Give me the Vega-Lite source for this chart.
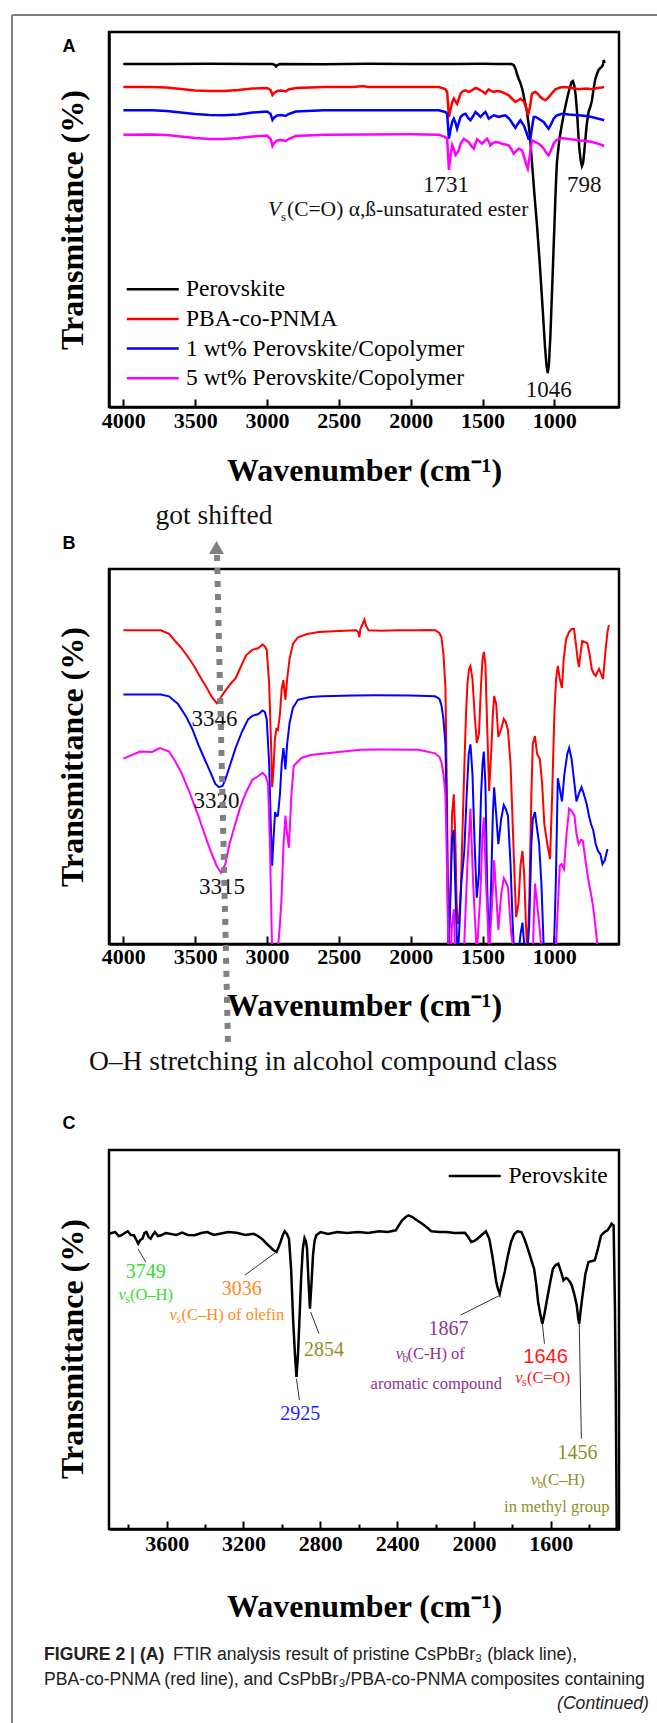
{
"$schema": "https://vega.github.io/schema/vega-lite/v6.json",
"background": "white",
"padding": {"left": 9, "top": 12, "right": 0, "bottom": 0},
"bounds": "flush",
"spacing": 162,
"config": {
  "view": {"stroke": "black", "strokeWidth": 2.5},
  "axis": {"grid": false, "labelFont": "Liberation Serif", "labelFontWeight": "bold", "labelFontSize": 22, "labelColor": "black", "titleFont": "Liberation Serif", "titleFontWeight": "bold", "titleColor": "black", "domainColor": "black", "domainWidth": 2.5, "tickColor": "black", "tickWidth": 2},
  "legend": {"labelFont": "Liberation Serif", "labelColor": "black"}
},
"resolve": {"scale": {"color": "independent"}, "legend": {"color": "independent"}},
"datasets": {
"lineA": [
{"s":"Perovskite","w":4000,"t":343},{"s":"Perovskite","w":3700,"t":343},{"s":"Perovskite","w":3400,"t":343.3},{"s":"Perovskite","w":3100,"t":343},{"s":"Perovskite","w":2960,"t":343},{"s":"Perovskite","w":2945,"t":342},{"s":"Perovskite","w":2937,"t":340.5},{"s":"Perovskite","w":2928,"t":342},{"s":"Perovskite","w":2910,"t":343},{"s":"Perovskite","w":2600,"t":342.7},{"s":"Perovskite","w":2300,"t":343.2},{"s":"Perovskite","w":2000,"t":343},{"s":"Perovskite","w":1700,"t":343},{"s":"Perovskite","w":1500,"t":343.2},{"s":"Perovskite","w":1400,"t":343},{"s":"Perovskite","w":1300,"t":343},{"s":"Perovskite","w":1283,"t":342},{"s":"Perovskite","w":1270,"t":338},{"s":"Perovskite","w":1260,"t":333},{"s":"Perovskite","w":1248,"t":328},{"s":"Perovskite","w":1236,"t":324},{"s":"Perovskite","w":1220,"t":316},{"s":"Perovskite","w":1205,"t":305},{"s":"Perovskite","w":1190,"t":295},{"s":"Perovskite","w":1175,"t":278},{"s":"Perovskite","w":1165,"t":262},{"s":"Perovskite","w":1156,"t":245},{"s":"Perovskite","w":1140,"t":215},{"s":"Perovskite","w":1120,"t":180},{"s":"Perovskite","w":1100,"t":140},{"s":"Perovskite","w":1080,"t":95},{"s":"Perovskite","w":1065,"t":60},{"s":"Perovskite","w":1055,"t":42},{"s":"Perovskite","w":1046,"t":34},{"s":"Perovskite","w":1038,"t":42},{"s":"Perovskite","w":1028,"t":70},{"s":"Perovskite","w":1015,"t":120},{"s":"Perovskite","w":1000,"t":180},{"s":"Perovskite","w":990,"t":220},{"s":"Perovskite","w":982,"t":245},{"s":"Perovskite","w":965,"t":268},{"s":"Perovskite","w":947,"t":283},{"s":"Perovskite","w":930,"t":296},{"s":"Perovskite","w":912,"t":308},{"s":"Perovskite","w":895,"t":318},{"s":"Perovskite","w":880,"t":325},{"s":"Perovskite","w":871,"t":326},{"s":"Perovskite","w":862,"t":322},{"s":"Perovskite","w":852,"t":312},{"s":"Perovskite","w":842,"t":295},{"s":"Perovskite","w":834,"t":275},{"s":"Perovskite","w":826,"t":258},{"s":"Perovskite","w":816,"t":246},{"s":"Perovskite","w":808,"t":241},{"s":"Perovskite","w":800,"t":244},{"s":"Perovskite","w":792,"t":255},{"s":"Perovskite","w":785,"t":266},{"s":"Perovskite","w":775,"t":282},{"s":"Perovskite","w":762,"t":295},{"s":"Perovskite","w":750,"t":300},{"s":"Perovskite","w":739,"t":306},{"s":"Perovskite","w":727,"t":318},{"s":"Perovskite","w":715,"t":328},{"s":"Perovskite","w":703,"t":333},{"s":"Perovskite","w":692,"t":337},{"s":"Perovskite","w":680,"t":339},{"s":"Perovskite","w":671,"t":340},{"s":"Perovskite","w":662,"t":342},{"s":"Perovskite","w":656,"t":347},{"s":"Perovskite","w":650,"t":344},
{"s":"PBA-co-PNMA","w":4000,"t":320},{"s":"PBA-co-PNMA","w":3800,"t":320},{"s":"PBA-co-PNMA","w":3700,"t":319.5},{"s":"PBA-co-PNMA","w":3600,"t":318},{"s":"PBA-co-PNMA","w":3500,"t":316.5},{"s":"PBA-co-PNMA","w":3400,"t":316},{"s":"PBA-co-PNMA","w":3300,"t":316},{"s":"PBA-co-PNMA","w":3200,"t":317},{"s":"PBA-co-PNMA","w":3100,"t":318.5},{"s":"PBA-co-PNMA","w":3000,"t":319},{"s":"PBA-co-PNMA","w":2975,"t":317},{"s":"PBA-co-PNMA","w":2962,"t":312},{"s":"PBA-co-PNMA","w":2950,"t":314},{"s":"PBA-co-PNMA","w":2930,"t":316},{"s":"PBA-co-PNMA","w":2900,"t":316.5},{"s":"PBA-co-PNMA","w":2870,"t":315.5},{"s":"PBA-co-PNMA","w":2850,"t":317.5},{"s":"PBA-co-PNMA","w":2800,"t":319},{"s":"PBA-co-PNMA","w":2600,"t":320},{"s":"PBA-co-PNMA","w":2400,"t":320},{"s":"PBA-co-PNMA","w":2330,"t":321},{"s":"PBA-co-PNMA","w":2300,"t":320},{"s":"PBA-co-PNMA","w":2000,"t":320},{"s":"PBA-co-PNMA","w":1804,"t":320},{"s":"PBA-co-PNMA","w":1760,"t":318},{"s":"PBA-co-PNMA","w":1746,"t":315},{"s":"PBA-co-PNMA","w":1734,"t":290},{"s":"PBA-co-PNMA","w":1722,"t":298},{"s":"PBA-co-PNMA","w":1711,"t":305},{"s":"PBA-co-PNMA","w":1700,"t":308.3},{"s":"PBA-co-PNMA","w":1690,"t":306},{"s":"PBA-co-PNMA","w":1677,"t":303.3},{"s":"PBA-co-PNMA","w":1665,"t":308},{"s":"PBA-co-PNMA","w":1653,"t":313.3},{"s":"PBA-co-PNMA","w":1635,"t":316},{"s":"PBA-co-PNMA","w":1618,"t":316.7},{"s":"PBA-co-PNMA","w":1600,"t":315},{"s":"PBA-co-PNMA","w":1584,"t":315.7},{"s":"PBA-co-PNMA","w":1565,"t":317.5},{"s":"PBA-co-PNMA","w":1549,"t":319},{"s":"PBA-co-PNMA","w":1530,"t":318},{"s":"PBA-co-PNMA","w":1514,"t":316.7},{"s":"PBA-co-PNMA","w":1495,"t":315},{"s":"PBA-co-PNMA","w":1480,"t":313.3},{"s":"PBA-co-PNMA","w":1468,"t":316},{"s":"PBA-co-PNMA","w":1457,"t":317.7},{"s":"PBA-co-PNMA","w":1440,"t":316},{"s":"PBA-co-PNMA","w":1422,"t":315},{"s":"PBA-co-PNMA","w":1405,"t":315.7},{"s":"PBA-co-PNMA","w":1387,"t":315.7},{"s":"PBA-co-PNMA","w":1365,"t":315},{"s":"PBA-co-PNMA","w":1341,"t":313.3},{"s":"PBA-co-PNMA","w":1320,"t":312},{"s":"PBA-co-PNMA","w":1306,"t":310},{"s":"PBA-co-PNMA","w":1285,"t":307},{"s":"PBA-co-PNMA","w":1271,"t":305},{"s":"PBA-co-PNMA","w":1255,"t":306.5},{"s":"PBA-co-PNMA","w":1236,"t":308.3},{"s":"PBA-co-PNMA","w":1225,"t":307},{"s":"PBA-co-PNMA","w":1213,"t":305.7},{"s":"PBA-co-PNMA","w":1198,"t":300},{"s":"PBA-co-PNMA","w":1183,"t":291.7},{"s":"PBA-co-PNMA","w":1170,"t":300},{"s":"PBA-co-PNMA","w":1156,"t":313.3},{"s":"PBA-co-PNMA","w":1144,"t":314.5},{"s":"PBA-co-PNMA","w":1132,"t":315},{"s":"PBA-co-PNMA","w":1115,"t":313},{"s":"PBA-co-PNMA","w":1097,"t":310},{"s":"PBA-co-PNMA","w":1080,"t":308},{"s":"PBA-co-PNMA","w":1063,"t":306.7},{"s":"PBA-co-PNMA","w":1045,"t":309},{"s":"PBA-co-PNMA","w":1028,"t":311.7},{"s":"PBA-co-PNMA","w":1010,"t":315},{"s":"PBA-co-PNMA","w":993,"t":317.7},{"s":"PBA-co-PNMA","w":960,"t":319.5},{"s":"PBA-co-PNMA","w":924,"t":320},{"s":"PBA-co-PNMA","w":880,"t":319},{"s":"PBA-co-PNMA","w":831,"t":317.7},{"s":"PBA-co-PNMA","w":780,"t":318.5},{"s":"PBA-co-PNMA","w":739,"t":317.7},{"s":"PBA-co-PNMA","w":700,"t":319},{"s":"PBA-co-PNMA","w":670,"t":319.5},{"s":"PBA-co-PNMA","w":653,"t":320},
{"s":"1 wt% Perovskite/Copolymer","w":4000,"t":296.7},{"s":"1 wt% Perovskite/Copolymer","w":3800,"t":296.7},{"s":"1 wt% Perovskite/Copolymer","w":3700,"t":296},{"s":"1 wt% Perovskite/Copolymer","w":3600,"t":294.5},{"s":"1 wt% Perovskite/Copolymer","w":3500,"t":293},{"s":"1 wt% Perovskite/Copolymer","w":3400,"t":292},{"s":"1 wt% Perovskite/Copolymer","w":3300,"t":291.7},{"s":"1 wt% Perovskite/Copolymer","w":3200,"t":292.5},{"s":"1 wt% Perovskite/Copolymer","w":3100,"t":294.5},{"s":"1 wt% Perovskite/Copolymer","w":3000,"t":295.5},{"s":"1 wt% Perovskite/Copolymer","w":2975,"t":293},{"s":"1 wt% Perovskite/Copolymer","w":2962,"t":287},{"s":"1 wt% Perovskite/Copolymer","w":2950,"t":289.5},{"s":"1 wt% Perovskite/Copolymer","w":2930,"t":291.5},{"s":"1 wt% Perovskite/Copolymer","w":2900,"t":292},{"s":"1 wt% Perovskite/Copolymer","w":2870,"t":291},{"s":"1 wt% Perovskite/Copolymer","w":2850,"t":293},{"s":"1 wt% Perovskite/Copolymer","w":2800,"t":295.5},{"s":"1 wt% Perovskite/Copolymer","w":2600,"t":296.7},{"s":"1 wt% Perovskite/Copolymer","w":2000,"t":296.7},{"s":"1 wt% Perovskite/Copolymer","w":1804,"t":296.7},{"s":"1 wt% Perovskite/Copolymer","w":1760,"t":295},{"s":"1 wt% Perovskite/Copolymer","w":1746,"t":293.3},{"s":"1 wt% Perovskite/Copolymer","w":1734,"t":268.3},{"s":"1 wt% Perovskite/Copolymer","w":1722,"t":278},{"s":"1 wt% Perovskite/Copolymer","w":1711,"t":285},{"s":"1 wt% Perovskite/Copolymer","w":1700,"t":288.3},{"s":"1 wt% Perovskite/Copolymer","w":1690,"t":285},{"s":"1 wt% Perovskite/Copolymer","w":1677,"t":278.3},{"s":"1 wt% Perovskite/Copolymer","w":1665,"t":284},{"s":"1 wt% Perovskite/Copolymer","w":1653,"t":290},{"s":"1 wt% Perovskite/Copolymer","w":1635,"t":292.5},{"s":"1 wt% Perovskite/Copolymer","w":1618,"t":293.3},{"s":"1 wt% Perovskite/Copolymer","w":1600,"t":289},{"s":"1 wt% Perovskite/Copolymer","w":1584,"t":286.7},{"s":"1 wt% Perovskite/Copolymer","w":1565,"t":291},{"s":"1 wt% Perovskite/Copolymer","w":1549,"t":295},{"s":"1 wt% Perovskite/Copolymer","w":1530,"t":292.5},{"s":"1 wt% Perovskite/Copolymer","w":1514,"t":290},{"s":"1 wt% Perovskite/Copolymer","w":1495,"t":293},{"s":"1 wt% Perovskite/Copolymer","w":1480,"t":295},{"s":"1 wt% Perovskite/Copolymer","w":1468,"t":292},{"s":"1 wt% Perovskite/Copolymer","w":1457,"t":288.3},{"s":"1 wt% Perovskite/Copolymer","w":1440,"t":290},{"s":"1 wt% Perovskite/Copolymer","w":1422,"t":291.7},{"s":"1 wt% Perovskite/Copolymer","w":1405,"t":291},{"s":"1 wt% Perovskite/Copolymer","w":1387,"t":290},{"s":"1 wt% Perovskite/Copolymer","w":1365,"t":291},{"s":"1 wt% Perovskite/Copolymer","w":1341,"t":291.7},{"s":"1 wt% Perovskite/Copolymer","w":1320,"t":289},{"s":"1 wt% Perovskite/Copolymer","w":1306,"t":286.7},{"s":"1 wt% Perovskite/Copolymer","w":1285,"t":282},{"s":"1 wt% Perovskite/Copolymer","w":1271,"t":279},{"s":"1 wt% Perovskite/Copolymer","w":1255,"t":283},{"s":"1 wt% Perovskite/Copolymer","w":1236,"t":286.7},{"s":"1 wt% Perovskite/Copolymer","w":1225,"t":284},{"s":"1 wt% Perovskite/Copolymer","w":1213,"t":281.7},{"s":"1 wt% Perovskite/Copolymer","w":1195,"t":275},{"s":"1 wt% Perovskite/Copolymer","w":1180,"t":268.3},{"s":"1 wt% Perovskite/Copolymer","w":1167,"t":268.3},{"s":"1 wt% Perovskite/Copolymer","w":1155,"t":280},{"s":"1 wt% Perovskite/Copolymer","w":1144,"t":290},{"s":"1 wt% Perovskite/Copolymer","w":1130,"t":290},{"s":"1 wt% Perovskite/Copolymer","w":1109,"t":288.3},{"s":"1 wt% Perovskite/Copolymer","w":1090,"t":286.5},{"s":"1 wt% Perovskite/Copolymer","w":1074,"t":285},{"s":"1 wt% Perovskite/Copolymer","w":1055,"t":281},{"s":"1 wt% Perovskite/Copolymer","w":1040,"t":278.3},{"s":"1 wt% Perovskite/Copolymer","w":1025,"t":282},{"s":"1 wt% Perovskite/Copolymer","w":1005,"t":288.3},{"s":"1 wt% Perovskite/Copolymer","w":985,"t":291.5},{"s":"1 wt% Perovskite/Copolymer","w":947,"t":293.3},{"s":"1 wt% Perovskite/Copolymer","w":900,"t":292.5},{"s":"1 wt% Perovskite/Copolymer","w":831,"t":291.7},{"s":"1 wt% Perovskite/Copolymer","w":780,"t":291},{"s":"1 wt% Perovskite/Copolymer","w":739,"t":290},{"s":"1 wt% Perovskite/Copolymer","w":700,"t":288.5},{"s":"1 wt% Perovskite/Copolymer","w":670,"t":287.5},{"s":"1 wt% Perovskite/Copolymer","w":653,"t":286.7},
{"s":"5 wt% Perovskite/Copolymer","w":4000,"t":272.3},{"s":"5 wt% Perovskite/Copolymer","w":3800,"t":272.5},{"s":"5 wt% Perovskite/Copolymer","w":3700,"t":272},{"s":"5 wt% Perovskite/Copolymer","w":3600,"t":270.5},{"s":"5 wt% Perovskite/Copolymer","w":3500,"t":269},{"s":"5 wt% Perovskite/Copolymer","w":3400,"t":268},{"s":"5 wt% Perovskite/Copolymer","w":3300,"t":268},{"s":"5 wt% Perovskite/Copolymer","w":3200,"t":269},{"s":"5 wt% Perovskite/Copolymer","w":3100,"t":270.5},{"s":"5 wt% Perovskite/Copolymer","w":3000,"t":271.5},{"s":"5 wt% Perovskite/Copolymer","w":2975,"t":268},{"s":"5 wt% Perovskite/Copolymer","w":2962,"t":261},{"s":"5 wt% Perovskite/Copolymer","w":2950,"t":264},{"s":"5 wt% Perovskite/Copolymer","w":2930,"t":266.5},{"s":"5 wt% Perovskite/Copolymer","w":2900,"t":267},{"s":"5 wt% Perovskite/Copolymer","w":2870,"t":266},{"s":"5 wt% Perovskite/Copolymer","w":2850,"t":268},{"s":"5 wt% Perovskite/Copolymer","w":2800,"t":271},{"s":"5 wt% Perovskite/Copolymer","w":2600,"t":272.3},{"s":"5 wt% Perovskite/Copolymer","w":2000,"t":272.7},{"s":"5 wt% Perovskite/Copolymer","w":1804,"t":272.3},{"s":"5 wt% Perovskite/Copolymer","w":1760,"t":270},{"s":"5 wt% Perovskite/Copolymer","w":1746,"t":268.3},{"s":"5 wt% Perovskite/Copolymer","w":1734,"t":237},{"s":"5 wt% Perovskite/Copolymer","w":1722,"t":252},{"s":"5 wt% Perovskite/Copolymer","w":1711,"t":262},{"s":"5 wt% Perovskite/Copolymer","w":1700,"t":258},{"s":"5 wt% Perovskite/Copolymer","w":1688,"t":252},{"s":"5 wt% Perovskite/Copolymer","w":1677,"t":254},{"s":"5 wt% Perovskite/Copolymer","w":1665,"t":257},{"s":"5 wt% Perovskite/Copolymer","w":1650,"t":264},{"s":"5 wt% Perovskite/Copolymer","w":1630,"t":268.3},{"s":"5 wt% Perovskite/Copolymer","w":1614,"t":266.5},{"s":"5 wt% Perovskite/Copolymer","w":1596,"t":265},{"s":"5 wt% Perovskite/Copolymer","w":1578,"t":261},{"s":"5 wt% Perovskite/Copolymer","w":1561,"t":258.3},{"s":"5 wt% Perovskite/Copolymer","w":1550,"t":263},{"s":"5 wt% Perovskite/Copolymer","w":1538,"t":267.7},{"s":"5 wt% Perovskite/Copolymer","w":1520,"t":265.5},{"s":"5 wt% Perovskite/Copolymer","w":1503,"t":263.3},{"s":"5 wt% Perovskite/Copolymer","w":1485,"t":266},{"s":"5 wt% Perovskite/Copolymer","w":1468,"t":268.3},{"s":"5 wt% Perovskite/Copolymer","w":1455,"t":265},{"s":"5 wt% Perovskite/Copolymer","w":1445,"t":261.7},{"s":"5 wt% Perovskite/Copolymer","w":1428,"t":264},{"s":"5 wt% Perovskite/Copolymer","w":1410,"t":265},{"s":"5 wt% Perovskite/Copolymer","w":1385,"t":264.5},{"s":"5 wt% Perovskite/Copolymer","w":1364,"t":263.3},{"s":"5 wt% Perovskite/Copolymer","w":1340,"t":262.5},{"s":"5 wt% Perovskite/Copolymer","w":1318,"t":261.7},{"s":"5 wt% Perovskite/Copolymer","w":1300,"t":258},{"s":"5 wt% Perovskite/Copolymer","w":1283,"t":253.3},{"s":"5 wt% Perovskite/Copolymer","w":1265,"t":256},{"s":"5 wt% Perovskite/Copolymer","w":1248,"t":258.3},{"s":"5 wt% Perovskite/Copolymer","w":1235,"t":257.5},{"s":"5 wt% Perovskite/Copolymer","w":1225,"t":256.7},{"s":"5 wt% Perovskite/Copolymer","w":1210,"t":250},{"s":"5 wt% Perovskite/Copolymer","w":1195,"t":242},{"s":"5 wt% Perovskite/Copolymer","w":1185,"t":238.3},{"s":"5 wt% Perovskite/Copolymer","w":1172,"t":250},{"s":"5 wt% Perovskite/Copolymer","w":1156,"t":266.7},{"s":"5 wt% Perovskite/Copolymer","w":1140,"t":265.5},{"s":"5 wt% Perovskite/Copolymer","w":1125,"t":264.5},{"s":"5 wt% Perovskite/Copolymer","w":1109,"t":263.3},{"s":"5 wt% Perovskite/Copolymer","w":1090,"t":261},{"s":"5 wt% Perovskite/Copolymer","w":1074,"t":258.3},{"s":"5 wt% Perovskite/Copolymer","w":1055,"t":254},{"s":"5 wt% Perovskite/Copolymer","w":1040,"t":251.7},{"s":"5 wt% Perovskite/Copolymer","w":1025,"t":256},{"s":"5 wt% Perovskite/Copolymer","w":1005,"t":263.3},{"s":"5 wt% Perovskite/Copolymer","w":985,"t":267},{"s":"5 wt% Perovskite/Copolymer","w":947,"t":269},{"s":"5 wt% Perovskite/Copolymer","w":900,"t":268},{"s":"5 wt% Perovskite/Copolymer","w":831,"t":266.7},{"s":"5 wt% Perovskite/Copolymer","w":780,"t":266},{"s":"5 wt% Perovskite/Copolymer","w":739,"t":265},{"s":"5 wt% Perovskite/Copolymer","w":700,"t":263.5},{"s":"5 wt% Perovskite/Copolymer","w":670,"t":262},{"s":"5 wt% Perovskite/Copolymer","w":653,"t":261}
],
"lineB": [
{"s":"PBA-co-PNMA","w":4000,"t":313.7},{"s":"PBA-co-PNMA","w":3850,"t":313.7},{"s":"PBA-co-PNMA","w":3740,"t":313.7},{"s":"PBA-co-PNMA","w":3682,"t":310.1},{"s":"PBA-co-PNMA","w":3640,"t":303},{"s":"PBA-co-PNMA","w":3595,"t":295.9},{"s":"PBA-co-PNMA","w":3550,"t":287},{"s":"PBA-co-PNMA","w":3508,"t":278},{"s":"PBA-co-PNMA","w":3465,"t":267},{"s":"PBA-co-PNMA","w":3421,"t":256.6},{"s":"PBA-co-PNMA","w":3385,"t":247},{"s":"PBA-co-PNMA","w":3349,"t":240.6},{"s":"PBA-co-PNMA","w":3320,"t":247},{"s":"PBA-co-PNMA","w":3291,"t":253.1},{"s":"PBA-co-PNMA","w":3255,"t":260},{"s":"PBA-co-PNMA","w":3219,"t":265.6},{"s":"PBA-co-PNMA","w":3180,"t":278},{"s":"PBA-co-PNMA","w":3146,"t":288.7},{"s":"PBA-co-PNMA","w":3103,"t":294.1},{"s":"PBA-co-PNMA","w":3060,"t":296},{"s":"PBA-co-PNMA","w":3031,"t":299.4},{"s":"PBA-co-PNMA","w":3015,"t":297.5},{"s":"PBA-co-PNMA","w":3002,"t":294.1},{"s":"PBA-co-PNMA","w":2985,"t":260},{"s":"PBA-co-PNMA","w":2972,"t":200},{"s":"PBA-co-PNMA","w":2964,"t":156.8},{"s":"PBA-co-PNMA","w":2955,"t":175},{"s":"PBA-co-PNMA","w":2945,"t":205},{"s":"PBA-co-PNMA","w":2935,"t":215},{"s":"PBA-co-PNMA","w":2924,"t":213.9},{"s":"PBA-co-PNMA","w":2910,"t":230},{"s":"PBA-co-PNMA","w":2898,"t":255},{"s":"PBA-co-PNMA","w":2886,"t":263.8},{"s":"PBA-co-PNMA","w":2878,"t":252},{"s":"PBA-co-PNMA","w":2872,"t":244.2},{"s":"PBA-co-PNMA","w":2860,"t":265},{"s":"PBA-co-PNMA","w":2843,"t":285.2},{"s":"PBA-co-PNMA","w":2820,"t":300},{"s":"PBA-co-PNMA","w":2785,"t":306.6},{"s":"PBA-co-PNMA","w":2720,"t":310},{"s":"PBA-co-PNMA","w":2640,"t":311.9},{"s":"PBA-co-PNMA","w":2500,"t":313},{"s":"PBA-co-PNMA","w":2380,"t":313.7},{"s":"PBA-co-PNMA","w":2365,"t":312},{"s":"PBA-co-PNMA","w":2357,"t":306.6},{"s":"PBA-co-PNMA","w":2350,"t":315},{"s":"PBA-co-PNMA","w":2335,"t":320},{"s":"PBA-co-PNMA","w":2322,"t":324.4},{"s":"PBA-co-PNMA","w":2310,"t":318},{"s":"PBA-co-PNMA","w":2293,"t":313.7},{"s":"PBA-co-PNMA","w":2200,"t":313.2},{"s":"PBA-co-PNMA","w":2100,"t":313.7},{"s":"PBA-co-PNMA","w":1946,"t":313.7},{"s":"PBA-co-PNMA","w":1880,"t":314},{"s":"PBA-co-PNMA","w":1830,"t":313.7},{"s":"PBA-co-PNMA","w":1800,"t":311},{"s":"PBA-co-PNMA","w":1786,"t":306.6},{"s":"PBA-co-PNMA","w":1772,"t":290},{"s":"PBA-co-PNMA","w":1758,"t":256.6},{"s":"PBA-co-PNMA","w":1748,"t":150},{"s":"PBA-co-PNMA","w":1737,"t":-10},{"s":"PBA-co-PNMA","w":1722,"t":60},{"s":"PBA-co-PNMA","w":1712,"t":130},{"s":"PBA-co-PNMA","w":1700,"t":149.7},{"s":"PBA-co-PNMA","w":1690,"t":110},{"s":"PBA-co-PNMA","w":1680,"t":40},{"s":"PBA-co-PNMA","w":1671,"t":20},{"s":"PBA-co-PNMA","w":1660,"t":30},{"s":"PBA-co-PNMA","w":1650,"t":60},{"s":"PBA-co-PNMA","w":1638,"t":120},{"s":"PBA-co-PNMA","w":1627,"t":175},{"s":"PBA-co-PNMA","w":1615,"t":230},{"s":"PBA-co-PNMA","w":1605,"t":260},{"s":"PBA-co-PNMA","w":1594,"t":275},{"s":"PBA-co-PNMA","w":1584,"t":278},{"s":"PBA-co-PNMA","w":1570,"t":265},{"s":"PBA-co-PNMA","w":1555,"t":230},{"s":"PBA-co-PNMA","w":1540,"t":201},{"s":"PBA-co-PNMA","w":1525,"t":210},{"s":"PBA-co-PNMA","w":1510,"t":260},{"s":"PBA-co-PNMA","w":1500,"t":285},{"s":"PBA-co-PNMA","w":1491,"t":292},{"s":"PBA-co-PNMA","w":1480,"t":280},{"s":"PBA-co-PNMA","w":1468,"t":220},{"s":"PBA-co-PNMA","w":1454,"t":153},{"s":"PBA-co-PNMA","w":1440,"t":190},{"s":"PBA-co-PNMA","w":1428,"t":230},{"s":"PBA-co-PNMA","w":1419,"t":248},{"s":"PBA-co-PNMA","w":1405,"t":240},{"s":"PBA-co-PNMA","w":1390,"t":207},{"s":"PBA-co-PNMA","w":1370,"t":215},{"s":"PBA-co-PNMA","w":1352,"t":225},{"s":"PBA-co-PNMA","w":1338,"t":222},{"s":"PBA-co-PNMA","w":1323,"t":214},{"s":"PBA-co-PNMA","w":1305,"t":180},{"s":"PBA-co-PNMA","w":1290,"t":120},{"s":"PBA-co-PNMA","w":1275,"t":60},{"s":"PBA-co-PNMA","w":1266,"t":27},{"s":"PBA-co-PNMA","w":1250,"t":40},{"s":"PBA-co-PNMA","w":1235,"t":80},{"s":"PBA-co-PNMA","w":1222,"t":93},{"s":"PBA-co-PNMA","w":1210,"t":70},{"s":"PBA-co-PNMA","w":1198,"t":20},{"s":"PBA-co-PNMA","w":1188,"t":-10},{"s":"PBA-co-PNMA","w":1175,"t":40},{"s":"PBA-co-PNMA","w":1160,"t":150},{"s":"PBA-co-PNMA","w":1150,"t":200},{"s":"PBA-co-PNMA","w":1135,"t":208},{"s":"PBA-co-PNMA","w":1120,"t":190},{"s":"PBA-co-PNMA","w":1101,"t":185},{"s":"PBA-co-PNMA","w":1085,"t":160},{"s":"PBA-co-PNMA","w":1070,"t":120},{"s":"PBA-co-PNMA","w":1049,"t":100},{"s":"PBA-co-PNMA","w":1030,"t":85},{"s":"PBA-co-PNMA","w":1015,"t":150},{"s":"PBA-co-PNMA","w":1000,"t":230},{"s":"PBA-co-PNMA","w":988,"t":265},{"s":"PBA-co-PNMA","w":976,"t":278},{"s":"PBA-co-PNMA","w":962,"t":265},{"s":"PBA-co-PNMA","w":947,"t":256},{"s":"PBA-co-PNMA","w":935,"t":285},{"s":"PBA-co-PNMA","w":918,"t":305},{"s":"PBA-co-PNMA","w":898,"t":312},{"s":"PBA-co-PNMA","w":880,"t":315},{"s":"PBA-co-PNMA","w":863,"t":315},{"s":"PBA-co-PNMA","w":850,"t":300},{"s":"PBA-co-PNMA","w":838,"t":285},{"s":"PBA-co-PNMA","w":829,"t":277},{"s":"PBA-co-PNMA","w":818,"t":290},{"s":"PBA-co-PNMA","w":806,"t":303},{"s":"PBA-co-PNMA","w":790,"t":302},{"s":"PBA-co-PNMA","w":771,"t":301},{"s":"PBA-co-PNMA","w":755,"t":290},{"s":"PBA-co-PNMA","w":740,"t":275},{"s":"PBA-co-PNMA","w":725,"t":270},{"s":"PBA-co-PNMA","w":712,"t":268},{"s":"PBA-co-PNMA","w":700,"t":272},{"s":"PBA-co-PNMA","w":689,"t":275},{"s":"PBA-co-PNMA","w":675,"t":270},{"s":"PBA-co-PNMA","w":661,"t":265},{"s":"PBA-co-PNMA","w":652,"t":280},{"s":"PBA-co-PNMA","w":643,"t":295},{"s":"PBA-co-PNMA","w":630,"t":312},{"s":"PBA-co-PNMA","w":620,"t":319},
{"s":"1 wt% Perovskite/Copolymer","w":4000,"t":249.5},{"s":"1 wt% Perovskite/Copolymer","w":3900,"t":249.5},{"s":"1 wt% Perovskite/Copolymer","w":3740,"t":249.5},{"s":"1 wt% Perovskite/Copolymer","w":3682,"t":247.7},{"s":"1 wt% Perovskite/Copolymer","w":3620,"t":240},{"s":"1 wt% Perovskite/Copolymer","w":3566,"t":228.1},{"s":"1 wt% Perovskite/Copolymer","w":3520,"t":215},{"s":"1 wt% Perovskite/Copolymer","w":3479,"t":199.6},{"s":"1 wt% Perovskite/Copolymer","w":3435,"t":185},{"s":"1 wt% Perovskite/Copolymer","w":3392,"t":171.1},{"s":"1 wt% Perovskite/Copolymer","w":3360,"t":160},{"s":"1 wt% Perovskite/Copolymer","w":3335,"t":156.8},{"s":"1 wt% Perovskite/Copolymer","w":3310,"t":158},{"s":"1 wt% Perovskite/Copolymer","w":3291,"t":164},{"s":"1 wt% Perovskite/Copolymer","w":3255,"t":180},{"s":"1 wt% Perovskite/Copolymer","w":3219,"t":196},{"s":"1 wt% Perovskite/Copolymer","w":3175,"t":212},{"s":"1 wt% Perovskite/Copolymer","w":3132,"t":224.6},{"s":"1 wt% Perovskite/Copolymer","w":3103,"t":228.1},{"s":"1 wt% Perovskite/Copolymer","w":3060,"t":230},{"s":"1 wt% Perovskite/Copolymer","w":3031,"t":233.5},{"s":"1 wt% Perovskite/Copolymer","w":3015,"t":232},{"s":"1 wt% Perovskite/Copolymer","w":3002,"t":224.6},{"s":"1 wt% Perovskite/Copolymer","w":2985,"t":180},{"s":"1 wt% Perovskite/Copolymer","w":2972,"t":110},{"s":"1 wt% Perovskite/Copolymer","w":2964,"t":78.4},{"s":"1 wt% Perovskite/Copolymer","w":2955,"t":105},{"s":"1 wt% Perovskite/Copolymer","w":2944,"t":131.9},{"s":"1 wt% Perovskite/Copolymer","w":2934,"t":128},{"s":"1 wt% Perovskite/Copolymer","w":2924,"t":128.3},{"s":"1 wt% Perovskite/Copolymer","w":2910,"t":150},{"s":"1 wt% Perovskite/Copolymer","w":2898,"t":180},{"s":"1 wt% Perovskite/Copolymer","w":2886,"t":196},{"s":"1 wt% Perovskite/Copolymer","w":2878,"t":185},{"s":"1 wt% Perovskite/Copolymer","w":2872,"t":174.6},{"s":"1 wt% Perovskite/Copolymer","w":2860,"t":200},{"s":"1 wt% Perovskite/Copolymer","w":2843,"t":221},{"s":"1 wt% Perovskite/Copolymer","w":2820,"t":236},{"s":"1 wt% Perovskite/Copolymer","w":2785,"t":244.2},{"s":"1 wt% Perovskite/Copolymer","w":2700,"t":247},{"s":"1 wt% Perovskite/Copolymer","w":2611,"t":247.7},{"s":"1 wt% Perovskite/Copolymer","w":2400,"t":248.5},{"s":"1 wt% Perovskite/Copolymer","w":2235,"t":248.8},{"s":"1 wt% Perovskite/Copolymer","w":2000,"t":248.5},{"s":"1 wt% Perovskite/Copolymer","w":1830,"t":247.7},{"s":"1 wt% Perovskite/Copolymer","w":1800,"t":245},{"s":"1 wt% Perovskite/Copolymer","w":1786,"t":238.8},{"s":"1 wt% Perovskite/Copolymer","w":1772,"t":225},{"s":"1 wt% Perovskite/Copolymer","w":1758,"t":199.6},{"s":"1 wt% Perovskite/Copolymer","w":1748,"t":120},{"s":"1 wt% Perovskite/Copolymer","w":1737,"t":-10},{"s":"1 wt% Perovskite/Copolymer","w":1725,"t":40},{"s":"1 wt% Perovskite/Copolymer","w":1712,"t":105},{"s":"1 wt% Perovskite/Copolymer","w":1700,"t":114},{"s":"1 wt% Perovskite/Copolymer","w":1690,"t":60},{"s":"1 wt% Perovskite/Copolymer","w":1680,"t":10},{"s":"1 wt% Perovskite/Copolymer","w":1671,"t":-10},{"s":"1 wt% Perovskite/Copolymer","w":1660,"t":20},{"s":"1 wt% Perovskite/Copolymer","w":1648,"t":60},{"s":"1 wt% Perovskite/Copolymer","w":1627,"t":92.6},{"s":"1 wt% Perovskite/Copolymer","w":1610,"t":150},{"s":"1 wt% Perovskite/Copolymer","w":1596,"t":190},{"s":"1 wt% Perovskite/Copolymer","w":1584,"t":199.6},{"s":"1 wt% Perovskite/Copolymer","w":1570,"t":170},{"s":"1 wt% Perovskite/Copolymer","w":1555,"t":100},{"s":"1 wt% Perovskite/Copolymer","w":1540,"t":46.3},{"s":"1 wt% Perovskite/Copolymer","w":1525,"t":70},{"s":"1 wt% Perovskite/Copolymer","w":1510,"t":150},{"s":"1 wt% Perovskite/Copolymer","w":1500,"t":180},{"s":"1 wt% Perovskite/Copolymer","w":1491,"t":192.5},{"s":"1 wt% Perovskite/Copolymer","w":1480,"t":160},{"s":"1 wt% Perovskite/Copolymer","w":1468,"t":60},{"s":"1 wt% Perovskite/Copolymer","w":1454,"t":-10},{"s":"1 wt% Perovskite/Copolymer","w":1440,"t":60},{"s":"1 wt% Perovskite/Copolymer","w":1428,"t":130},{"s":"1 wt% Perovskite/Copolymer","w":1419,"t":156.8},{"s":"1 wt% Perovskite/Copolymer","w":1405,"t":130},{"s":"1 wt% Perovskite/Copolymer","w":1390,"t":99.8},{"s":"1 wt% Perovskite/Copolymer","w":1370,"t":125},{"s":"1 wt% Perovskite/Copolymer","w":1352,"t":139},{"s":"1 wt% Perovskite/Copolymer","w":1338,"t":135},{"s":"1 wt% Perovskite/Copolymer","w":1323,"t":128.3},{"s":"1 wt% Perovskite/Copolymer","w":1305,"t":80},{"s":"1 wt% Perovskite/Copolymer","w":1290,"t":20},{"s":"1 wt% Perovskite/Copolymer","w":1280,"t":-10},{"s":"1 wt% Perovskite/Copolymer","w":1250,"t":-10},{"s":"1 wt% Perovskite/Copolymer","w":1235,"t":10},{"s":"1 wt% Perovskite/Copolymer","w":1222,"t":21.4},{"s":"1 wt% Perovskite/Copolymer","w":1210,"t":0},{"s":"1 wt% Perovskite/Copolymer","w":1198,"t":-10},{"s":"1 wt% Perovskite/Copolymer","w":1188,"t":-10},{"s":"1 wt% Perovskite/Copolymer","w":1175,"t":20},{"s":"1 wt% Perovskite/Copolymer","w":1160,"t":100},{"s":"1 wt% Perovskite/Copolymer","w":1150,"t":125},{"s":"1 wt% Perovskite/Copolymer","w":1135,"t":131.9},{"s":"1 wt% Perovskite/Copolymer","w":1120,"t":115},{"s":"1 wt% Perovskite/Copolymer","w":1106,"t":99.8},{"s":"1 wt% Perovskite/Copolymer","w":1090,"t":60},{"s":"1 wt% Perovskite/Copolymer","w":1075,"t":0},{"s":"1 wt% Perovskite/Copolymer","w":1062,"t":-10},{"s":"1 wt% Perovskite/Copolymer","w":1004,"t":-10},{"s":"1 wt% Perovskite/Copolymer","w":990,"t":60},{"s":"1 wt% Perovskite/Copolymer","w":976,"t":165.7},{"s":"1 wt% Perovskite/Copolymer","w":962,"t":155},{"s":"1 wt% Perovskite/Copolymer","w":947,"t":142.6},{"s":"1 wt% Perovskite/Copolymer","w":930,"t":170},{"s":"1 wt% Perovskite/Copolymer","w":910,"t":190},{"s":"1 wt% Perovskite/Copolymer","w":897,"t":196},{"s":"1 wt% Perovskite/Copolymer","w":880,"t":185},{"s":"1 wt% Perovskite/Copolymer","w":860,"t":160},{"s":"1 wt% Perovskite/Copolymer","w":846,"t":142.6},{"s":"1 wt% Perovskite/Copolymer","w":830,"t":150},{"s":"1 wt% Perovskite/Copolymer","w":811,"t":156.8},{"s":"1 wt% Perovskite/Copolymer","w":795,"t":150},{"s":"1 wt% Perovskite/Copolymer","w":775,"t":140},{"s":"1 wt% Perovskite/Copolymer","w":759,"t":128.3},{"s":"1 wt% Perovskite/Copolymer","w":745,"t":120},{"s":"1 wt% Perovskite/Copolymer","w":730,"t":114},{"s":"1 wt% Perovskite/Copolymer","w":712,"t":100},{"s":"1 wt% Perovskite/Copolymer","w":695,"t":92.6},{"s":"1 wt% Perovskite/Copolymer","w":680,"t":90},{"s":"1 wt% Perovskite/Copolymer","w":665,"t":80},{"s":"1 wt% Perovskite/Copolymer","w":649,"t":83.7},{"s":"1 wt% Perovskite/Copolymer","w":630,"t":95},
{"s":"5 wt% Perovskite/Copolymer","w":4000,"t":185.3},{"s":"5 wt% Perovskite/Copolymer","w":3884,"t":192.5},{"s":"5 wt% Perovskite/Copolymer","w":3800,"t":192},{"s":"5 wt% Perovskite/Copolymer","w":3745,"t":196},{"s":"5 wt% Perovskite/Copolymer","w":3682,"t":192.5},{"s":"5 wt% Perovskite/Copolymer","w":3640,"t":183},{"s":"5 wt% Perovskite/Copolymer","w":3595,"t":171.1},{"s":"5 wt% Perovskite/Copolymer","w":3540,"t":152},{"s":"5 wt% Perovskite/Copolymer","w":3479,"t":128.3},{"s":"5 wt% Perovskite/Copolymer","w":3435,"t":110},{"s":"5 wt% Perovskite/Copolymer","w":3392,"t":92.6},{"s":"5 wt% Perovskite/Copolymer","w":3350,"t":78},{"s":"5 wt% Perovskite/Copolymer","w":3320,"t":71.3},{"s":"5 wt% Perovskite/Copolymer","w":3290,"t":80},{"s":"5 wt% Perovskite/Copolymer","w":3262,"t":99.8},{"s":"5 wt% Perovskite/Copolymer","w":3225,"t":118},{"s":"5 wt% Perovskite/Copolymer","w":3190,"t":135.4},{"s":"5 wt% Perovskite/Copolymer","w":3145,"t":152},{"s":"5 wt% Perovskite/Copolymer","w":3103,"t":164},{"s":"5 wt% Perovskite/Copolymer","w":3060,"t":168},{"s":"5 wt% Perovskite/Copolymer","w":3031,"t":171.1},{"s":"5 wt% Perovskite/Copolymer","w":3010,"t":168},{"s":"5 wt% Perovskite/Copolymer","w":2993,"t":160.4},{"s":"5 wt% Perovskite/Copolymer","w":2980,"t":100},{"s":"5 wt% Perovskite/Copolymer","w":2964,"t":-10},{"s":"5 wt% Perovskite/Copolymer","w":2929,"t":-10},{"s":"5 wt% Perovskite/Copolymer","w":2915,"t":10},{"s":"5 wt% Perovskite/Copolymer","w":2900,"t":42.7},{"s":"5 wt% Perovskite/Copolymer","w":2885,"t":100},{"s":"5 wt% Perovskite/Copolymer","w":2872,"t":128.3},{"s":"5 wt% Perovskite/Copolymer","w":2860,"t":110},{"s":"5 wt% Perovskite/Copolymer","w":2848,"t":96.2},{"s":"5 wt% Perovskite/Copolymer","w":2830,"t":150},{"s":"5 wt% Perovskite/Copolymer","w":2814,"t":178.2},{"s":"5 wt% Perovskite/Copolymer","w":2760,"t":186},{"s":"5 wt% Perovskite/Copolymer","w":2698,"t":188.9},{"s":"5 wt% Perovskite/Copolymer","w":2500,"t":192},{"s":"5 wt% Perovskite/Copolymer","w":2351,"t":194.3},{"s":"5 wt% Perovskite/Copolymer","w":2200,"t":194.5},{"s":"5 wt% Perovskite/Copolymer","w":1946,"t":194.3},{"s":"5 wt% Perovskite/Copolymer","w":1830,"t":190.7},{"s":"5 wt% Perovskite/Copolymer","w":1800,"t":187},{"s":"5 wt% Perovskite/Copolymer","w":1786,"t":181.8},{"s":"5 wt% Perovskite/Copolymer","w":1772,"t":170},{"s":"5 wt% Perovskite/Copolymer","w":1758,"t":149.7},{"s":"5 wt% Perovskite/Copolymer","w":1748,"t":80},{"s":"5 wt% Perovskite/Copolymer","w":1737,"t":-10},{"s":"5 wt% Perovskite/Copolymer","w":1722,"t":-10},{"s":"5 wt% Perovskite/Copolymer","w":1712,"t":20},{"s":"5 wt% Perovskite/Copolymer","w":1700,"t":35},{"s":"5 wt% Perovskite/Copolymer","w":1690,"t":-10},{"s":"5 wt% Perovskite/Copolymer","w":1630,"t":-10},{"s":"5 wt% Perovskite/Copolymer","w":1605,"t":80},{"s":"5 wt% Perovskite/Copolymer","w":1584,"t":135.4},{"s":"5 wt% Perovskite/Copolymer","w":1565,"t":60},{"s":"5 wt% Perovskite/Copolymer","w":1540,"t":-10},{"s":"5 wt% Perovskite/Copolymer","w":1515,"t":50},{"s":"5 wt% Perovskite/Copolymer","w":1500,"t":110},{"s":"5 wt% Perovskite/Copolymer","w":1491,"t":126.5},{"s":"5 wt% Perovskite/Copolymer","w":1475,"t":60},{"s":"5 wt% Perovskite/Copolymer","w":1454,"t":-10},{"s":"5 wt% Perovskite/Copolymer","w":1430,"t":50},{"s":"5 wt% Perovskite/Copolymer","w":1419,"t":83.7},{"s":"5 wt% Perovskite/Copolymer","w":1405,"t":50},{"s":"5 wt% Perovskite/Copolymer","w":1390,"t":14.2},{"s":"5 wt% Perovskite/Copolymer","w":1370,"t":50},{"s":"5 wt% Perovskite/Copolymer","w":1352,"t":65.9},{"s":"5 wt% Perovskite/Copolymer","w":1338,"t":62},{"s":"5 wt% Perovskite/Copolymer","w":1323,"t":57},{"s":"5 wt% Perovskite/Copolymer","w":1300,"t":10},{"s":"5 wt% Perovskite/Copolymer","w":1280,"t":-10},{"s":"5 wt% Perovskite/Copolymer","w":1150,"t":-10},{"s":"5 wt% Perovskite/Copolymer","w":1140,"t":40},{"s":"5 wt% Perovskite/Copolymer","w":1135,"t":60.5},{"s":"5 wt% Perovskite/Copolymer","w":1120,"t":40},{"s":"5 wt% Perovskite/Copolymer","w":1106,"t":21.4},{"s":"5 wt% Perovskite/Copolymer","w":1090,"t":-5},{"s":"5 wt% Perovskite/Copolymer","w":1062,"t":-10},{"s":"5 wt% Perovskite/Copolymer","w":990,"t":-10},{"s":"5 wt% Perovskite/Copolymer","w":975,"t":40},{"s":"5 wt% Perovskite/Copolymer","w":962,"t":78.4},{"s":"5 wt% Perovskite/Copolymer","w":950,"t":80},{"s":"5 wt% Perovskite/Copolymer","w":933,"t":74.8},{"s":"5 wt% Perovskite/Copolymer","w":915,"t":110},{"s":"5 wt% Perovskite/Copolymer","w":897,"t":135.4},{"s":"5 wt% Perovskite/Copolymer","w":880,"t":133},{"s":"5 wt% Perovskite/Copolymer","w":860,"t":128.3},{"s":"5 wt% Perovskite/Copolymer","w":846,"t":110},{"s":"5 wt% Perovskite/Copolymer","w":831,"t":99.8},{"s":"5 wt% Perovskite/Copolymer","w":815,"t":104},{"s":"5 wt% Perovskite/Copolymer","w":802,"t":103.4},{"s":"5 wt% Perovskite/Copolymer","w":780,"t":80},{"s":"5 wt% Perovskite/Copolymer","w":759,"t":60.5},{"s":"5 wt% Perovskite/Copolymer","w":745,"t":50},{"s":"5 wt% Perovskite/Copolymer","w":730,"t":37.4},{"s":"5 wt% Perovskite/Copolymer","w":712,"t":15},{"s":"5 wt% Perovskite/Copolymer","w":695,"t":-10},{"s":"5 wt% Perovskite/Copolymer","w":672,"t":-10}
],
"lineC": [
{"s":"Perovskite","w":3900,"t":295.3},{"s":"Perovskite","w":3868,"t":297},{"s":"Perovskite","w":3850,"t":293},{"s":"Perovskite","w":3835,"t":293.7},{"s":"Perovskite","w":3818,"t":296},{"s":"Perovskite","w":3802,"t":297.7},{"s":"Perovskite","w":3786,"t":294},{"s":"Perovskite","w":3770,"t":293.7},{"s":"Perovskite","w":3760,"t":290},{"s":"Perovskite","w":3748,"t":285.3},{"s":"Perovskite","w":3737,"t":289},{"s":"Perovskite","w":3726,"t":290.3},{"s":"Perovskite","w":3715,"t":296},{"s":"Perovskite","w":3705,"t":297},{"s":"Perovskite","w":3694,"t":292},{"s":"Perovskite","w":3683,"t":290.3},{"s":"Perovskite","w":3672,"t":294},{"s":"Perovskite","w":3661,"t":297},{"s":"Perovskite","w":3645,"t":293},{"s":"Perovskite","w":3628,"t":293.7},{"s":"Perovskite","w":3605,"t":296},{"s":"Perovskite","w":3584,"t":295.3},{"s":"Perovskite","w":3550,"t":294},{"s":"Perovskite","w":3519,"t":296.3},{"s":"Perovskite","w":3490,"t":294},{"s":"Perovskite","w":3454,"t":293.7},{"s":"Perovskite","w":3420,"t":296},{"s":"Perovskite","w":3388,"t":297},{"s":"Perovskite","w":3355,"t":294},{"s":"Perovskite","w":3323,"t":295.3},{"s":"Perovskite","w":3280,"t":297},{"s":"Perovskite","w":3236,"t":296.3},{"s":"Perovskite","w":3190,"t":294},{"s":"Perovskite","w":3148,"t":295.3},{"s":"Perovskite","w":3125,"t":293},{"s":"Perovskite","w":3105,"t":290.3},{"s":"Perovskite","w":3083,"t":286},{"s":"Perovskite","w":3061,"t":282},{"s":"Perovskite","w":3045,"t":279},{"s":"Perovskite","w":3028,"t":277},{"s":"Perovskite","w":3017,"t":282},{"s":"Perovskite","w":3007,"t":287},{"s":"Perovskite","w":2995,"t":294},{"s":"Perovskite","w":2985,"t":297.7},{"s":"Perovskite","w":2974,"t":295},{"s":"Perovskite","w":2963,"t":290.3},{"s":"Perovskite","w":2952,"t":260},{"s":"Perovskite","w":2941,"t":207},{"s":"Perovskite","w":2932,"t":175},{"s":"Perovskite","w":2924,"t":152},{"s":"Perovskite","w":2916,"t":175},{"s":"Perovskite","w":2909,"t":207},{"s":"Perovskite","w":2900,"t":250},{"s":"Perovskite","w":2891,"t":280.3},{"s":"Perovskite","w":2882,"t":291},{"s":"Perovskite","w":2875,"t":288},{"s":"Perovskite","w":2869,"t":280.3},{"s":"Perovskite","w":2862,"t":250},{"s":"Perovskite","w":2854,"t":220.3},{"s":"Perovskite","w":2846,"t":245},{"s":"Perovskite","w":2838,"t":273.7},{"s":"Perovskite","w":2830,"t":288},{"s":"Perovskite","w":2821,"t":293.7},{"s":"Perovskite","w":2799,"t":297},{"s":"Perovskite","w":2760,"t":295},{"s":"Perovskite","w":2712,"t":297},{"s":"Perovskite","w":2660,"t":296},{"s":"Perovskite","w":2603,"t":297},{"s":"Perovskite","w":2550,"t":296},{"s":"Perovskite","w":2494,"t":297.7},{"s":"Perovskite","w":2450,"t":297},{"s":"Perovskite","w":2407,"t":298.7},{"s":"Perovskite","w":2390,"t":304},{"s":"Perovskite","w":2374,"t":308.7},{"s":"Perovskite","w":2355,"t":312},{"s":"Perovskite","w":2341,"t":313.7},{"s":"Perovskite","w":2320,"t":312},{"s":"Perovskite","w":2298,"t":308.7},{"s":"Perovskite","w":2275,"t":306},{"s":"Perovskite","w":2254,"t":303},{"s":"Perovskite","w":2235,"t":300},{"s":"Perovskite","w":2222,"t":297.7},{"s":"Perovskite","w":2180,"t":297},{"s":"Perovskite","w":2145,"t":297},{"s":"Perovskite","w":2100,"t":296},{"s":"Perovskite","w":2047,"t":296.3},{"s":"Perovskite","w":2030,"t":292},{"s":"Perovskite","w":2014,"t":287},{"s":"Perovskite","w":1998,"t":288},{"s":"Perovskite","w":1982,"t":290.3},{"s":"Perovskite","w":1960,"t":294},{"s":"Perovskite","w":1938,"t":297.7},{"s":"Perovskite","w":1920,"t":290},{"s":"Perovskite","w":1905,"t":273.7},{"s":"Perovskite","w":1894,"t":260},{"s":"Perovskite","w":1884,"t":247},{"s":"Perovskite","w":1875,"t":240},{"s":"Perovskite","w":1866,"t":235.3},{"s":"Perovskite","w":1855,"t":245},{"s":"Perovskite","w":1840,"t":257},{"s":"Perovskite","w":1825,"t":272},{"s":"Perovskite","w":1807,"t":287},{"s":"Perovskite","w":1790,"t":295},{"s":"Perovskite","w":1774,"t":297.7},{"s":"Perovskite","w":1753,"t":297},{"s":"Perovskite","w":1737,"t":290},{"s":"Perovskite","w":1720,"t":280.3},{"s":"Perovskite","w":1703,"t":270},{"s":"Perovskite","w":1687,"t":260.3},{"s":"Perovskite","w":1676,"t":245},{"s":"Perovskite","w":1666,"t":227},{"s":"Perovskite","w":1655,"t":215},{"s":"Perovskite","w":1644,"t":205.3},{"s":"Perovskite","w":1633,"t":215},{"s":"Perovskite","w":1622,"t":227},{"s":"Perovskite","w":1605,"t":245},{"s":"Perovskite","w":1589,"t":260.3},{"s":"Perovskite","w":1575,"t":264},{"s":"Perovskite","w":1561,"t":265.3},{"s":"Perovskite","w":1548,"t":258},{"s":"Perovskite","w":1534,"t":248.7},{"s":"Perovskite","w":1522,"t":251},{"s":"Perovskite","w":1513,"t":250.3},{"s":"Perovskite","w":1500,"t":247},{"s":"Perovskite","w":1491,"t":243.7},{"s":"Perovskite","w":1478,"t":235},{"s":"Perovskite","w":1465,"t":223.7},{"s":"Perovskite","w":1458,"t":212},{"s":"Perovskite","w":1452,"t":205.3},{"s":"Perovskite","w":1445,"t":218},{"s":"Perovskite","w":1437,"t":230.3},{"s":"Perovskite","w":1420,"t":255},{"s":"Perovskite","w":1404,"t":267},{"s":"Perovskite","w":1385,"t":268},{"s":"Perovskite","w":1371,"t":268.7},{"s":"Perovskite","w":1355,"t":280},{"s":"Perovskite","w":1338,"t":293.7},{"s":"Perovskite","w":1320,"t":297},{"s":"Perovskite","w":1305,"t":298.7},{"s":"Perovskite","w":1290,"t":303},{"s":"Perovskite","w":1284,"t":305.3},{"s":"Perovskite","w":1273,"t":303.7},{"s":"Perovskite","w":1266,"t":220},{"s":"Perovskite","w":1262,"t":140},{"s":"Perovskite","w":1259,"t":60},{"s":"Perovskite","w":1257,"t":0}
],
"annA": [
{"k":"num","w":1754,"t":222.3,"text":"1731"},{"k":"num","w":791.5,"t":222.3,"text":"798"},{"k":"num","w":1039,"t":16.7,"text":"1046"},
{"k":"V","w":2993,"t":197,"text":"V"},{"k":"sub","w":2903,"t":197,"text":"s"},{"k":"txt","w":2861,"t":197,"text":"(C=O) α,ß-unsaturated ester"},
{"k":"panel","w":4378,"t":360,"text":"A"}
],
"frameA": [
{"w":4775,"t":392,"w2":285,"t2":392},{"w":4775,"t":392,"w2":4775,"t2":-1316}
],
"annB": [
{"k":"num","w":3366,"t":224.6,"text":"3346"},{"k":"num","w":3352,"t":143.3,"text":"3320"},{"k":"num","w":3313,"t":57,"text":"3315"},
{"k":"big","w":3369,"t":428,"text":"got shifted"},{"k":"big","w":2610,"t":-118,"text":"O–H stretching in alcohol compound class"},
{"k":"panel","w":4378,"t":400,"text":"B"}
],
"arrowB": [{"w":3348,"t":389,"w2":3272,"t2":-98}],
"headB": [{"w":3352,"t":396.5}],
"annC": [
{"k":"num","g":"OH","w":3709,"t":257,"text":"3749"},{"k":"num","g":"olefin","w":3209,"t":240.3,"text":"3036"},{"k":"num","g":"CH2925","w":2905,"t":115.3,"text":"2925"},{"k":"num","g":"CH2854","w":2781,"t":179,"text":"2854"},{"k":"num","g":"arom","w":2132,"t":200.3,"text":"1867"},{"k":"numsans","g":"CO","w":1627,"t":172,"text":"1646"},{"k":"num","g":"methyl","w":1460.5,"t":76,"text":"1456"},
{"k":"v","g":"OH","w":3851,"t":234,"text":"v"},{"k":"v","g":"olefin","w":3584.5,"t":214,"text":"v"},{"k":"v","g":"arom","w":2407,"t":175,"text":"v"},{"k":"v","g":"CO","w":1785.4,"t":151,"text":"v"},{"k":"v","g":"methyl","w":1704.7,"t":49,"text":"v"},
{"k":"sub","g":"OH","w":3814,"t":234,"text":"s"},{"k":"sub","g":"olefin","w":3548.6,"t":214,"text":"s"},{"k":"sub","g":"arom","w":2372,"t":175,"text":"b"},{"k":"sub","g":"CO","w":1750,"t":151,"text":"s"},{"k":"sub","g":"methyl","w":1669.3,"t":49,"text":"b"},
{"k":"txt","g":"OH","w":3791,"t":234,"text":"(O–H)"},{"k":"txt","g":"olefin","w":3522.6,"t":214,"text":"(C–H) of olefin"},{"k":"txt","g":"arom","w":2346,"t":175,"text":"(C-H) of"},{"k":"txt","g":"CO","w":1724,"t":151,"text":"(C=O)"},{"k":"txt","g":"methyl","w":1643.3,"t":49,"text":"(C–H)"},
{"k":"txtc","g":"arom","w":2196,"t":145.3,"text":"aromatic compound"},{"k":"txtc","g":"methyl","w":1569,"t":22,"text":"in methyl group"}
],
"linksC": [
{"w":3749,"t":280.3,"w2":3709,"t2":267},{"w":3028.5,"t":277,"w2":3192,"t2":254},{"w":2924,"t":150.3,"w2":2909,"t2":129},{"w":2850,"t":217,"w2":2807,"t2":195.3},{"w":1862,"t":234,"w2":2069,"t2":214},{"w":1644,"t":205.3,"w2":1633,"t2":185.3},{"w":1452,"t":205.3,"w2":1441,"t2":90.3}
],
"capC": [
{"k":"bold","w":4238,"t":-126,"text":"FIGURE 2 | (A)"},{"k":"reg","w":3567,"t":-126,"text":"FTIR analysis result of pristine CsPbBr₃ (black line),"},{"k":"reg","w":4238,"t":-151,"text":"PBA-co-PNMA (red line), and CsPbBr₃/PBA-co-PNMA composites containing"},{"k":"ital","w":1089,"t":-175,"text":"(Continued)"},
{"k":"panel","w":4108,"t":405.3,"text":"C"}
]
},
"vconcat": [
{
"width": 510, "height": 375,
"layer": [
{"data": {"name": "lineA"}, "mark": {"type": "line", "strokeWidth": 2.5, "clip": true},
 "encoding": {
  "x": {"field": "w", "type": "quantitative", "scale": {"domain": [4100, 550], "nice": false, "zero": false},
        "axis": {"values": [4000,3750,3500,3250,3000,2750,2500,2250,2000,1750,1500,1250,1000,750], "format": "d", "labelExpr": "datum.value % 500 === 0 ? datum.label : ''", "tickSize": {"condition": {"test": "datum.value % 500 === 0", "value": -8}, "value": -5}, "labelPadding": 11, "labelOverlap": false, "labelFlush": false, "title": "Wavenumber (cm⁻¹)", "titleFontSize": 32, "titlePadding": 24}},
  "y": {"field": "t", "type": "quantitative", "scale": {"domain": [0, 375], "nice": false, "zero": false},
        "axis": {"title": "Transmittance (%)", "ticks": false, "labels": false, "titleFontSize": 32, "titlePadding": 20}},
  "color": {"field": "s", "type": "nominal", "scale": {"domain": ["Perovskite", "PBA-co-PNMA", "1 wt% Perovskite/Copolymer", "5 wt% Perovskite/Copolymer"], "range": ["#000000", "#ff0000", "#0000ff", "#ff00ff"]},
        "legend": {"orient": "none", "legendX": 32, "legendY": 245.6, "title": null, "symbolType": "M-3,0H3", "symbolSize": 300, "symbolStrokeWidth": 2.5, "labelFontSize": 23.5, "labelOffset": 21.5, "rowPadding": 4.6, "labelLimit": 400, "padding": 0}}
 }},
{"data": {"name": "frameA"}, "mark": {"type": "rule", "stroke": "#808080", "strokeWidth": 2},
 "encoding": {"x": {"field": "w", "type": "quantitative"}, "x2": {"field": "w2"}, "y": {"field": "t", "type": "quantitative"}, "y2": {"field": "t2"}}},
{"data": {"name": "annA"}, "transform": [{"filter": "datum.k === 'num'"}], "mark": {"type": "text", "font": "Liberation Serif", "fontSize": 23, "color": "#111", "align": "center", "baseline": "middle"},
 "encoding": {"x": {"field": "w", "type": "quantitative"}, "y": {"field": "t", "type": "quantitative"}, "text": {"field": "text"}}},
{"data": {"name": "annA"}, "transform": [{"filter": "datum.k === 'V'"}], "mark": {"type": "text", "font": "Liberation Serif", "fontSize": 21.5, "fontStyle": "italic", "color": "#111", "align": "left", "baseline": "middle"},
 "encoding": {"x": {"field": "w", "type": "quantitative"}, "y": {"field": "t", "type": "quantitative"}, "text": {"field": "text"}}},
{"data": {"name": "annA"}, "transform": [{"filter": "datum.k === 'sub'"}], "mark": {"type": "text", "font": "Liberation Serif", "fontSize": 13, "color": "#111", "align": "left", "baseline": "middle", "dy": 7},
 "encoding": {"x": {"field": "w", "type": "quantitative"}, "y": {"field": "t", "type": "quantitative"}, "text": {"field": "text"}}},
{"data": {"name": "annA"}, "transform": [{"filter": "datum.k === 'txt'"}], "mark": {"type": "text", "font": "Liberation Serif", "fontSize": 21.5, "color": "#111", "align": "left", "baseline": "middle"},
 "encoding": {"x": {"field": "w", "type": "quantitative"}, "y": {"field": "t", "type": "quantitative"}, "text": {"field": "text"}}},
{"data": {"name": "annA"}, "transform": [{"filter": "datum.k === 'panel'"}], "mark": {"type": "text", "font": "Liberation Sans", "fontSize": 18, "fontWeight": "bold", "color": "black", "align": "center", "baseline": "middle"},
 "encoding": {"x": {"field": "w", "type": "quantitative"}, "y": {"field": "t", "type": "quantitative"}, "text": {"field": "text"}}}
]
},
{
"width": 510, "height": 375,
"layer": [
{"data": {"name": "lineB"}, "mark": {"type": "line", "strokeWidth": 2, "clip": true},
 "encoding": {
  "x": {"field": "w", "type": "quantitative", "scale": {"domain": [4100, 550], "nice": false, "zero": false},
        "axis": {"values": [4000,3750,3500,3250,3000,2750,2500,2250,2000,1750,1500,1250,1000,750], "format": "d", "labelExpr": "datum.value % 500 === 0 ? datum.label : ''", "tickSize": {"condition": {"test": "datum.value % 500 === 0", "value": -8}, "value": -5}, "labelPadding": 10, "labelOverlap": false, "labelFlush": false, "title": "Wavenumber (cm⁻¹)", "titleFontSize": 32, "titlePadding": 23}},
  "y": {"field": "t", "type": "quantitative", "scale": {"domain": [0, 375], "nice": false, "zero": false},
        "axis": {"title": "Transmittance (%)", "ticks": false, "labels": false, "titleFontSize": 32, "titlePadding": 20}},
  "color": {"field": "s", "type": "nominal", "scale": {"domain": ["PBA-co-PNMA", "1 wt% Perovskite/Copolymer", "5 wt% Perovskite/Copolymer"], "range": ["#ff0000", "#0000ff", "#ff00ff"]}, "legend": null}
 }},
{"data": {"name": "annB"}, "transform": [{"filter": "datum.k === 'num'"}], "mark": {"type": "text", "font": "Liberation Serif", "fontSize": 23, "color": "#111", "align": "center", "baseline": "middle"},
 "encoding": {"x": {"field": "w", "type": "quantitative"}, "y": {"field": "t", "type": "quantitative"}, "text": {"field": "text"}}},
{"data": {"name": "annB"}, "transform": [{"filter": "datum.k === 'big'"}], "mark": {"type": "text", "font": "Liberation Serif", "fontSize": 27.5, "color": "#111", "align": "center", "baseline": "middle"},
 "encoding": {"x": {"field": "w", "type": "quantitative"}, "y": {"field": "t", "type": "quantitative"}, "text": {"field": "text"}}},
{"data": {"name": "annB"}, "transform": [{"filter": "datum.k === 'panel'"}], "mark": {"type": "text", "font": "Liberation Sans", "fontSize": 18, "fontWeight": "bold", "color": "black", "align": "center", "baseline": "middle"},
 "encoding": {"x": {"field": "w", "type": "quantitative"}, "y": {"field": "t", "type": "quantitative"}, "text": {"field": "text"}}},
{"data": {"name": "arrowB"}, "mark": {"type": "rule", "stroke": "#808080", "strokeWidth": 6, "strokeDash": [6, 7]},
 "encoding": {"x": {"field": "w", "type": "quantitative"}, "x2": {"field": "w2"}, "y": {"field": "t", "type": "quantitative"}, "y2": {"field": "t2"}}},
{"data": {"name": "headB"}, "mark": {"type": "point", "shape": "triangle-up", "filled": true, "color": "#808080", "size": 225, "opacity": 1},
 "encoding": {"x": {"field": "w", "type": "quantitative"}, "y": {"field": "t", "type": "quantitative"}}}
]
},
{
"width": 510, "height": 423,
"view": {"stroke": null},
"resolve": {"scale": {"color": "independent"}},
"layer": [
{"data": {"name": "lineC"}, "mark": {"type": "line", "strokeWidth": 2.5, "clip": true},
 "encoding": {
  "x": {"field": "w", "type": "quantitative", "scale": {"domain": [3900, 1245], "nice": false, "zero": false},
        "axis": {"values": [3800,3600,3400,3200,3000,2800,2600,2400,2200,2000,1800,1600,1400], "format": "d", "labelExpr": "datum.value % 400 === 0 ? datum.label : ''", "tickSize": {"condition": {"test": "datum.value % 400 === 0", "value": -8}, "value": -5}, "labelPadding": 12, "labelOverlap": false, "labelFlush": false, "title": "Wavenumber (cm⁻¹)", "titleFontSize": 32, "titlePadding": 34}},
  "y": {"field": "t", "type": "quantitative", "scale": {"domain": [0, 423], "nice": false, "zero": false},
        "axis": {"title": "Transmittance (%)", "domain": false, "ticks": false, "labels": false, "titleFontSize": 32, "titlePadding": 20, "titleY": 242.5}},
  "color": {"field": "s", "type": "nominal", "scale": {"domain": ["Perovskite"], "range": ["#000000"]},
        "legend": {"orient": "none", "legendX": 354, "legendY": 58.3, "title": null, "symbolType": "M-3,0H3", "symbolSize": 300, "symbolStrokeWidth": 2.5, "labelFontSize": 23.5, "labelOffset": 22, "labelLimit": 300, "padding": 0}}
 }},
{"data": {"values": [{}]}, "mark": {"type": "rect", "filled": false, "stroke": "black", "strokeWidth": 2.5},
 "encoding": {"x": {"datum": 3900, "type": "quantitative"}, "x2": {"datum": 1245}, "y": {"datum": 0, "type": "quantitative"}, "y2": {"datum": 379}}},
{"data": {"name": "linksC"}, "mark": {"type": "rule", "stroke": "#333333", "strokeWidth": 1},
 "encoding": {"x": {"field": "w", "type": "quantitative"}, "x2": {"field": "w2"}, "y": {"field": "t", "type": "quantitative"}, "y2": {"field": "t2"}}},
{"data": {"name": "annC"}, "transform": [{"filter": "datum.k === 'num'"}], "mark": {"type": "text", "font": "Liberation Serif", "fontSize": 20, "align": "center", "baseline": "middle"},
 "encoding": {"x": {"field": "w", "type": "quantitative"}, "y": {"field": "t", "type": "quantitative"}, "text": {"field": "text"},
  "color": {"field": "g", "type": "nominal", "scale": {"domain": ["OH","olefin","CH2925","CH2854","arom","CO","methyl"], "range": ["#33dd33","#ff8c1a","#2323ff","#8f8f1f","#8f338f","#ff1a1a","#8f8f1f"]}, "legend": null}}},
{"data": {"name": "annC"}, "transform": [{"filter": "datum.k === 'numsans'"}], "mark": {"type": "text", "font": "Liberation Sans", "fontSize": 20, "align": "center", "baseline": "middle"},
 "encoding": {"x": {"field": "w", "type": "quantitative"}, "y": {"field": "t", "type": "quantitative"}, "text": {"field": "text"},
  "color": {"field": "g", "type": "nominal", "scale": {"domain": ["OH","olefin","CH2925","CH2854","arom","CO","methyl"], "range": ["#33dd33","#ff8c1a","#2323ff","#8f8f1f","#8f338f","#ff1a1a","#8f8f1f"]}, "legend": null}}},
{"data": {"name": "annC"}, "transform": [{"filter": "datum.k === 'v'"}], "mark": {"type": "text", "font": "Liberation Serif", "fontSize": 16.5, "fontStyle": "italic", "align": "left", "baseline": "middle"},
 "encoding": {"x": {"field": "w", "type": "quantitative"}, "y": {"field": "t", "type": "quantitative"}, "text": {"field": "text"},
  "color": {"field": "g", "type": "nominal", "scale": {"domain": ["OH","olefin","CH2925","CH2854","arom","CO","methyl"], "range": ["#33dd33","#ff8c1a","#2323ff","#8f8f1f","#8f338f","#ff1a1a","#8f8f1f"]}, "legend": null}}},
{"data": {"name": "annC"}, "transform": [{"filter": "datum.k === 'sub'"}], "mark": {"type": "text", "font": "Liberation Serif", "fontSize": 11.5, "align": "left", "baseline": "middle", "dy": 5},
 "encoding": {"x": {"field": "w", "type": "quantitative"}, "y": {"field": "t", "type": "quantitative"}, "text": {"field": "text"},
  "color": {"field": "g", "type": "nominal", "scale": {"domain": ["OH","olefin","CH2925","CH2854","arom","CO","methyl"], "range": ["#33dd33","#ff8c1a","#2323ff","#8f8f1f","#8f338f","#ff1a1a","#8f8f1f"]}, "legend": null}}},
{"data": {"name": "annC"}, "transform": [{"filter": "datum.k === 'txt'"}], "mark": {"type": "text", "font": "Liberation Serif", "fontSize": 16.5, "align": "left", "baseline": "middle"},
 "encoding": {"x": {"field": "w", "type": "quantitative"}, "y": {"field": "t", "type": "quantitative"}, "text": {"field": "text"},
  "color": {"field": "g", "type": "nominal", "scale": {"domain": ["OH","olefin","CH2925","CH2854","arom","CO","methyl"], "range": ["#33dd33","#ff8c1a","#2323ff","#8f8f1f","#8f338f","#ff1a1a","#8f8f1f"]}, "legend": null}}},
{"data": {"name": "annC"}, "transform": [{"filter": "datum.k === 'txtc'"}], "mark": {"type": "text", "font": "Liberation Serif", "fontSize": 16.5, "align": "center", "baseline": "middle"},
 "encoding": {"x": {"field": "w", "type": "quantitative"}, "y": {"field": "t", "type": "quantitative"}, "text": {"field": "text"},
  "color": {"field": "g", "type": "nominal", "scale": {"domain": ["OH","olefin","CH2925","CH2854","arom","CO","methyl"], "range": ["#33dd33","#ff8c1a","#2323ff","#8f8f1f","#8f338f","#ff1a1a","#8f8f1f"]}, "legend": null}}},
{"data": {"name": "capC"}, "transform": [{"filter": "datum.k === 'bold'"}], "mark": {"type": "text", "font": "Liberation Sans", "fontSize": 17.6, "fontWeight": "bold", "color": "#222222", "align": "left", "baseline": "middle"},
 "encoding": {"x": {"field": "w", "type": "quantitative"}, "y": {"field": "t", "type": "quantitative"}, "text": {"field": "text"}}},
{"data": {"name": "capC"}, "transform": [{"filter": "datum.k === 'reg'"}], "mark": {"type": "text", "font": "Liberation Sans", "fontSize": 17.6, "color": "#222222", "align": "left", "baseline": "middle"},
 "encoding": {"x": {"field": "w", "type": "quantitative"}, "y": {"field": "t", "type": "quantitative"}, "text": {"field": "text"}}},
{"data": {"name": "capC"}, "transform": [{"filter": "datum.k === 'ital'"}], "mark": {"type": "text", "font": "Liberation Sans", "fontSize": 17.6, "fontStyle": "italic", "color": "#222222", "align": "right", "baseline": "middle"},
 "encoding": {"x": {"field": "w", "type": "quantitative"}, "y": {"field": "t", "type": "quantitative"}, "text": {"field": "text"}}},
{"data": {"name": "capC"}, "transform": [{"filter": "datum.k === 'panel'"}], "mark": {"type": "text", "font": "Liberation Sans", "fontSize": 18, "fontWeight": "bold", "color": "black", "align": "center", "baseline": "middle"},
 "encoding": {"x": {"field": "w", "type": "quantitative"}, "y": {"field": "t", "type": "quantitative"}, "text": {"field": "text"}}}
]
}
]
}
